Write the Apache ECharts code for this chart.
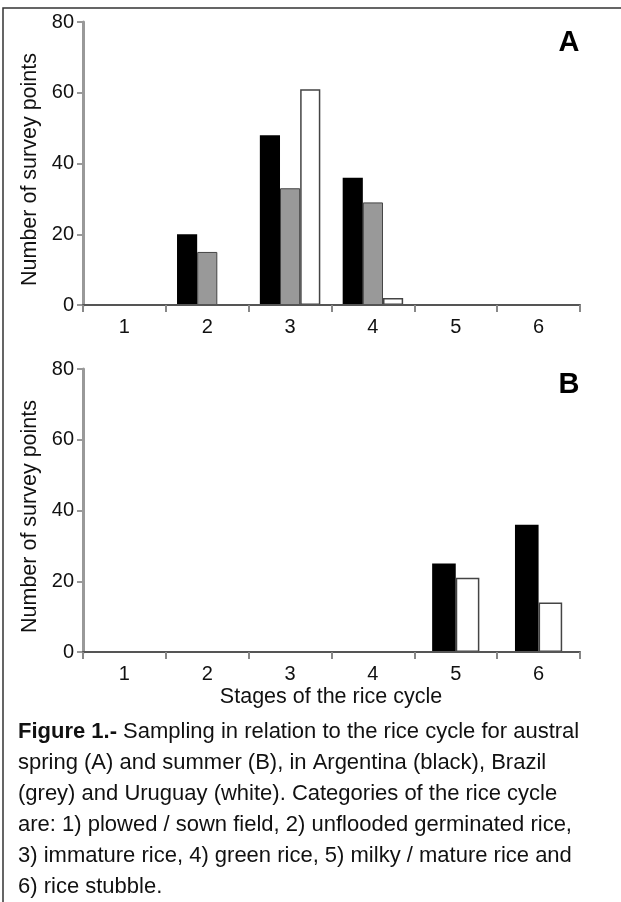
<!DOCTYPE html>
<html>
<head>
<meta charset="utf-8">
<script src="https://cdn.jsdelivr.net/npm/echarts@6/dist/echarts.min.js"></script>
<style>
  html, body { margin: 0; padding: 0; background: #fff; }
  #main { width: 621px; height: 902px; }
</style>
</head>
<body>
<div id="main"></div>
<script>
  // stages of the rice cycle
  const stages = ["1", "2", "3", "4", "5", "6"];
  const yTicks = [0, 20, 40, 60, 80];

  // A - austral spring
  const springArgentina = [0, 20, 48, 36, 0, 0];
  const springBrazil = [0, 15, 33, 29, 0, 0];
  const springUruguay = [0, 0, 61, 2, 0, 0];

  // B - austral summer
  const summerArgentina = [0, 0, 0, 0, 25, 36];
  const summerUruguay = [0, 0, 0, 0, 21, 14];

  const captionLines = [
    "{b|Figure 1.-} Sampling in relation to the rice cycle for austral",
    "spring (A) and summer (B), in Argentina (black), Brazil",
    "(grey) and Uruguay (white). Categories of the rice cycle",
    "are: 1) plowed / sown field, 2) unflooded germinated rice,",
    "3) immature rice, 4) green rice, 5) milky / mature rice and",
    "6) rice stubble."
  ];

  const font = "Liberation Sans, Arial, sans-serif";

  function xAxis(grid) {
    return {
      type: "category",
      gridIndex: grid,
      data: stages,
      z: 3,
      axisLine: { lineStyle: { color: "#555", width: 2 } },
      axisTick: { show: true, length: 7, lineStyle: { color: "#888", width: 2 } },
      axisLabel: { color: "#111", fontSize: 20, fontFamily: font, margin: 12 },
      splitLine: { show: false }
    };
  }

  function yAxis(grid) {
    return {
      type: "value",
      gridIndex: grid,
      min: yTicks[0],
      max: yTicks[yTicks.length - 1],
      interval: 20,
      name: "Number of survey points",
      nameLocation: "middle",
      nameRotate: 90,
      nameGap: 42,
      nameTextStyle: { color: "#111", fontSize: 21.5, fontFamily: font, padding: [0, 12, 0, 0] },
      axisLine: { show: true, lineStyle: { color: "#999", width: 3 } },
      axisTick: { show: true, length: 6, lineStyle: { color: "#999", width: 2 } },
      axisLabel: { color: "#111", fontSize: 20, fontFamily: font, margin: 9 },
      splitLine: { show: false }
    };
  }

  const black = { color: "#000", borderColor: "#000", borderWidth: 0 };
  const grey = { color: "#999", borderColor: "#444", borderWidth: 1 };
  const white = { color: "#fff", borderColor: "#444", borderWidth: 1.5 };

  const chart = echarts.init(document.getElementById("main"));
  const option = {
    backgroundColor: "#fff",
    animation: false,
    grid: [
      { left: 83, right: 41, top: 22, height: 283 },
      { left: 83, right: 41, top: 369, height: 283 }
    ],
    xAxis: [xAxis(0), xAxis(1)],
    yAxis: [yAxis(0), yAxis(1)],
    series: [
      { name: "Argentina", type: "bar", xAxisIndex: 0, yAxisIndex: 0, data: springArgentina,
        itemStyle: black, barGap: "0%", barCategoryGap: "27%" },
      { name: "Brazil", type: "bar", xAxisIndex: 0, yAxisIndex: 0, data: springBrazil,
        itemStyle: grey, barGap: "0%", barCategoryGap: "27%" },
      { name: "Uruguay", type: "bar", xAxisIndex: 0, yAxisIndex: 0, data: springUruguay,
        itemStyle: white, barGap: "0%", barCategoryGap: "27%" },
      { name: "Argentina", type: "bar", xAxisIndex: 1, yAxisIndex: 1, data: summerArgentina,
        itemStyle: black, barGap: "0%", barCategoryGap: "43%" },
      { name: "Uruguay", type: "bar", xAxisIndex: 1, yAxisIndex: 1, data: summerUruguay,
        itemStyle: white, barGap: "0%", barCategoryGap: "43%" }
    ],
    graphic: [
      // frame
      { type: "rect", shape: { x: 3, y: 8, width: 700, height: 1000 },
        style: { fill: null, stroke: "#333", lineWidth: 1.5 } },
      { type: "text", x: 569, y: 43,
        style: { text: "A", font: "bold 29px " + font, fill: "#000", align: "center", verticalAlign: "middle" } },
      { type: "text", x: 569, y: 385,
        style: { text: "B", font: "bold 29px " + font, fill: "#000", align: "center", verticalAlign: "middle" } },
      { type: "text", x: 331, y: 697,
        style: { text: "Stages of the rice cycle", font: "21.5px " + font, fill: "#111", align: "center", verticalAlign: "middle" } },
      { type: "text", x: 18, y: 716,
        style: {
          text: captionLines.join("\n"),
          font: "22px " + font,
          fill: "#111",
          lineHeight: 31,
          rich: {
            b: { fontWeight: "bold", fontSize: 22, fontFamily: font, lineHeight: 31 }
          }
        } }
    ]
  };
  chart.setOption(option);
</script>
</body>
</html>
